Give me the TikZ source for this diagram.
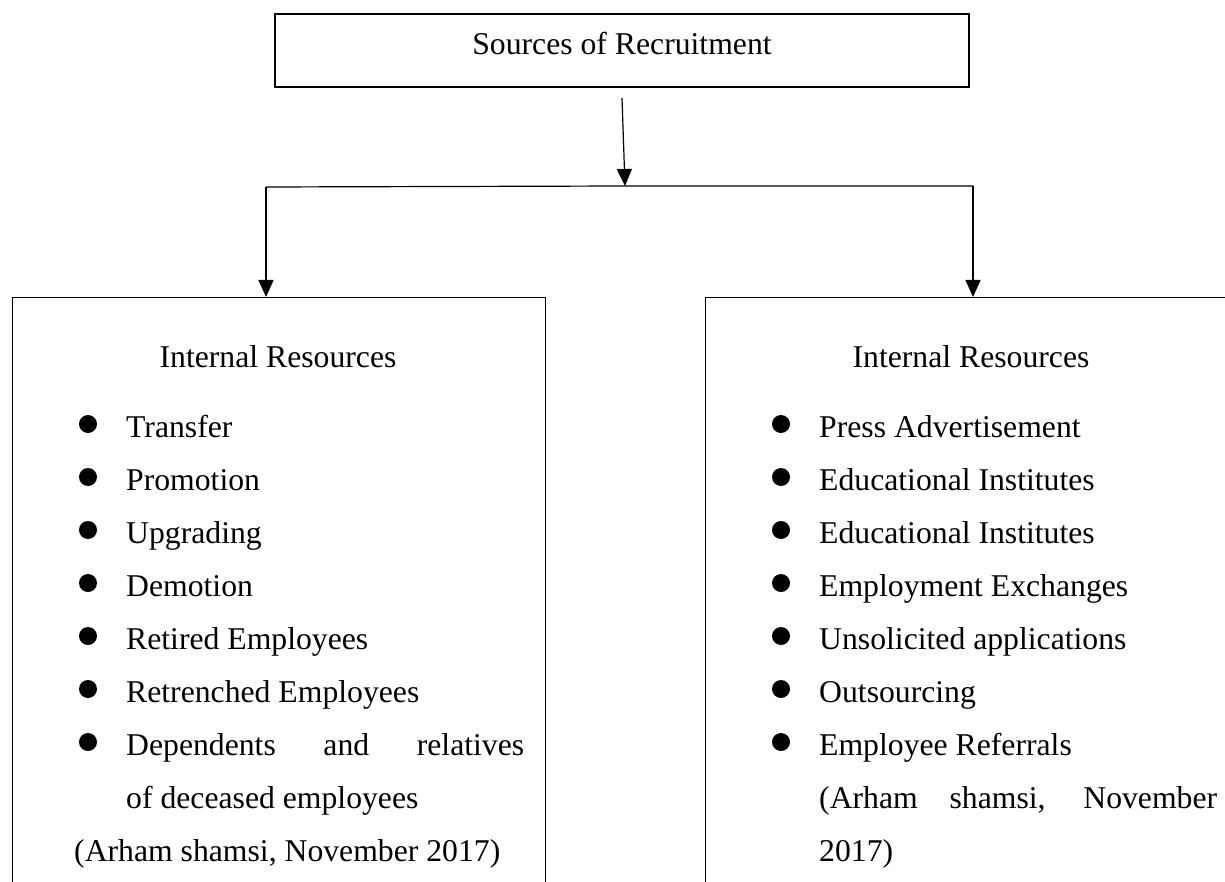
\documentclass[tikz,border=0pt]{standalone}
\usepackage{fontspec}
\setmainfont{Liberation Serif}
\usetikzlibrary{arrows.meta}
\begin{document}
\begin{tikzpicture}[x=1pt,y=-1pt,
  every node/.style={font=\fontsize{31.7}{38}\selectfont, inner sep=0pt},
  topbox/.style={draw, line width=2pt, minimum width=694pt, minimum height=73pt},
  listbox/.style={draw, line width=1.3pt, anchor=north west, minimum height=640pt},
  conn/.style={line width=1.2pt},
  arr/.style={conn, -{Triangle[length=17pt,width=15pt]}},
  item/.style={anchor=base west},
  dot/.style={circle, fill=black, minimum size=18pt}
]
\useasboundingbox (0,0) rectangle (1225,882);
\clip (0,0) rectangle (1225,882);

% title box
\node[topbox] (src) at (622,50.5) {};
\node[anchor=base] (srct) at (622,55) {Sources of Recruitment};

% the two list boxes
\node[listbox, minimum width=533pt] (lbox) at (12,297) {};
\node[listbox, minimum width=560pt] (rbox) at (705,297) {};

% connectors
\coordinate (j) at (625,186);
\coordinate (hl) at (266,187);
\coordinate (hr) at (973,186);
\draw[arr] ([yshift=-10pt]src.south) -- (j);
\draw[conn] (hl) -- (j) -- (hr);
\draw[arr] (hl) -- (hl |- lbox.north);
\draw[arr] (hr) -- (hr |- rbox.north);

% left list
\node[anchor=base] (lt) at (278,367) {Internal Resources};
\foreach \n/\t [count=\i from 0] in {l1/Transfer,l2/Promotion,l3/Upgrading,l4/Demotion,l5/Retired Employees,l6/Retrenched Employees}{
  \node[item] (\n) at (126,437+53*\i) {\t};
  \node[dot] (\n d) at (88,424+53*\i) {};
}
\node[item] (l7) at (126,755) {\makebox[398pt][s]{Dependents and relatives}};
\node[dot] (l7d) at (88,742) {};
\node[item] (l8) at (126,808) {of deceased employees};
\node[item] (lref) at (74,861) {(Arham shamsi, November 2017)};

% right list
\node[anchor=base] (rt) at (971,367) {Internal Resources};
\foreach \n/\t [count=\i from 0] in {r1/Press Advertisement,r2/Educational Institutes,r3/Educational Institutes,r4/Employment Exchanges,r5/Unsolicited applications,r6/Outsourcing,r7/Employee Referrals}{
  \node[item] (\n) at (819,437+53*\i) {\t};
  \node[dot] (\n d) at (781,424+53*\i) {};
}
\node[item] (rref) at (819,808) {\makebox[398pt][s]{(Arham shamsi, November}};
\node[item] (rref2) at (819,861) {2017)};
\end{tikzpicture}
\end{document}
